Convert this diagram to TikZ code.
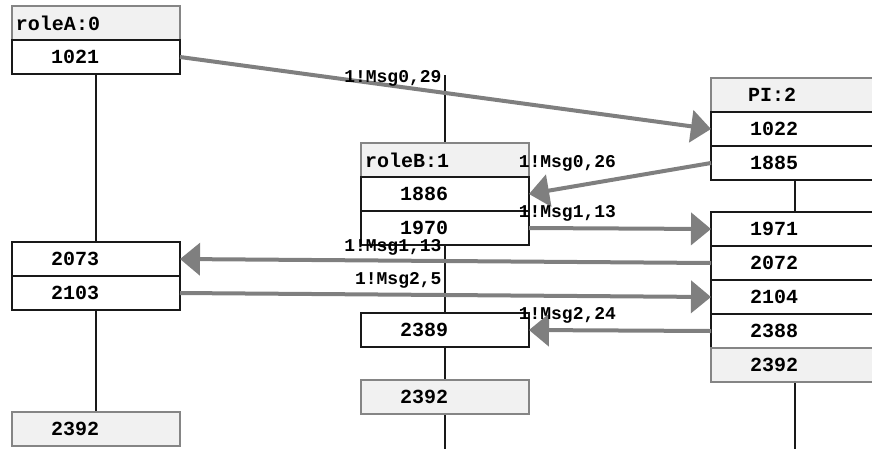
\documentclass[tikz,border=0pt]{standalone}
\usepackage{fontspec}
\setmonofont{Liberation Mono}
\usepackage{tikz}
\usepackage{xcolor}
\usetikzlibrary{arrows.meta, positioning, backgrounds}
\definecolor{clrHdr}{HTML}{F1F1F1}
\definecolor{clrHdrLine}{HTML}{858585}
\definecolor{clrMsg}{HTML}{7F7F7F}

\begin{document}
\begin{tikzpicture}[
    x=1pt, y=-1pt,
    box/.style={rectangle, minimum height=34pt, text width=90pt, inner xsep=39pt, inner ysep=0pt, outer sep=0pt, align=left, font=\fontsize{20}{22}\selectfont\ttfamily\bfseries},
    cell/.style={box, draw=black!90, fill=white, line width=2.8pt},
    hdr/.style={box, draw=clrHdrLine, fill=clrHdr, line width=2.2pt, inner xsep=4pt, text width=160pt},
    endcell/.style={box, draw=clrHdrLine, fill=clrHdr, line width=2.2pt},
    lifeline/.style={line width=2.8pt, black!90},
    msg/.style={-{Triangle[length=20pt, width=32pt]}, line width=4pt, clrMsg},
    msglbl/.style={font=\fontsize{18}{20}\selectfont\ttfamily\bfseries, text=black, anchor=south east, inner sep=2pt, yshift=3pt},
]
\useasboundingbox (0,0) rectangle (872,448);

% roleA
\node[hdr] (ahdr) at (96,23) {roleA:0};
\node[cell, below=0pt of ahdr] (a1021) {1021};
\node[cell] (a2073) at (96,259) {2073};
\node[cell, below=0pt of a2073] (a2103) {2103};
\node[endcell] (a2392) at (96,429) {2392};

% roleB
\node[hdr] (bhdr) at (445,160) {roleB:1};
\node[cell, below=0pt of bhdr] (b1886) {1886};
\node[cell, below=0pt of b1886] (b1970) {1970};
\node[cell] (b2389) at (445,330) {2389};
\node[endcell] (b2392) at (445,397) {2392};

% PI
\node[hdr, inner xsep=37pt, text width=94pt] (chdr) at (795,95) {PI:2};
\node[cell, below=0pt of chdr] (c1022) {1022};
\node[cell, below=0pt of c1022] (c1885) {1885};
\node[cell] (c1971) at (795,229) {1971};
\node[cell, below=0pt of c1971] (c2072) {2072};
\node[cell, below=0pt of c2072] (c2104) {2104};
\node[cell, below=0pt of c2104] (c2388) {2388};
\node[endcell, below=0pt of c2388] (c2392) {2392};

\coordinate (btop) at (445,75);
\coordinate (bbot) at (445,452);
\coordinate (cbot) at (795,452);

% lifelines
\begin{scope}[on background layer]
\draw[lifeline] (a1021.south) -- (a2073.north);
\draw[lifeline] (a2103.south) -- (a2392.north);
\draw[lifeline] (btop) -- (bhdr.north);
\draw[lifeline] (b1970.south) -- (b2389.north);
\draw[lifeline] (b2389.south) -- (b2392.north);
\draw[lifeline] (b2392.south) -- (bbot);
\draw[lifeline] (c1885.south) -- (c1971.north);
\draw[lifeline] (c2392.south) -- (cbot);
\end{scope}

% messages
\draw[msg] (a1021.east) -- node[msglbl, midway] {1!Msg0,29} (c1022.west);
\draw[msg] (c1885.west) -- node[msglbl, midway] {1!Msg0,26} (b1886.east);
\draw[msg] (b1970.east) -- node[msglbl, midway] {1!Msg1,13} (c1971.west);
\draw[msg] (c2072.west) -- node[msglbl, midway, yshift=-1pt] {1!Msg1,13} (a2073.east);
\draw[msg] (a2103.east) -- node[msglbl, midway] {1!Msg2,5} (c2104.west);
\draw[msg] (c2388.west) -- node[msglbl, midway] {1!Msg2,24} (b2389.east);

\end{tikzpicture}
\end{document}
